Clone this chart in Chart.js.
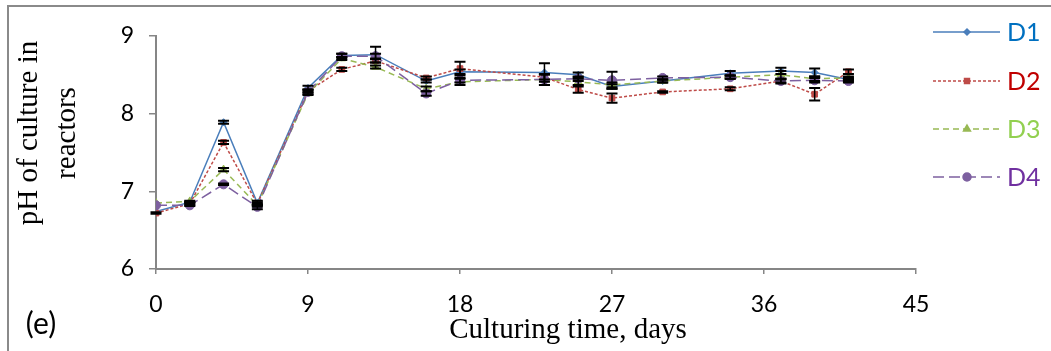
<!DOCTYPE html>
<html>
<head>
<meta charset="utf-8">
<script src="https://cdn.jsdelivr.net/npm/chart.js@4.4.1/dist/chart.umd.min.js"></script>
<style>
  html, body { margin: 0; padding: 0; background: #fff; }
  #wrap { position: relative; width: 1051px; height: 351px; }
</style>
</head>
<body>
<div id="wrap"><canvas id="phChart" width="1051" height="351"></canvas></div>
<script>
const dias = [0, 2, 4, 6, 9, 11, 13, 16, 18, 23, 25, 27, 30, 34, 37, 39, 41];
const xTicks = [0, 9, 18, 27, 36, 45];
const yTicks = [6, 7, 8, 9];

const nomesSeries = ["D1", "D2", "D3", "D4"];

const phD1 = [6.74, 6.86, 7.89, 6.85, 8.33, 8.75, 8.76, 8.42, 8.54, 8.53, 8.50, 8.35, 8.42, 8.52, 8.55, 8.53, 8.44];
const phD2 = [6.72, 6.84, 7.63, 6.84, 8.29, 8.57, 8.68, 8.46, 8.58, 8.47, 8.31, 8.20, 8.28, 8.32, 8.42, 8.25, 8.54];
const phD3 = [6.85, 6.87, 7.28, 6.82, 8.26, 8.71, 8.60, 8.32, 8.41, 8.44, 8.41, 8.37, 8.42, 8.47, 8.50, 8.45, 8.46];
const phD4 = [6.82, 6.82, 7.09, 6.80, 8.28, 8.74, 8.74, 8.26, 8.43, 8.44, 8.45, 8.43, 8.46, 8.47, 8.42, 8.43, 8.42];

// desvios (barras de erro)
const errD1 = [0.00, 0.01, 0.02, 0.03, 0.03, 0.02, 0.10, 0.02, 0.03, 0.12, 0.03, 0.03, 0.02, 0.03, 0.04, 0.05, 0.02];
const errD2 = [0.01, 0.02, 0.02, 0.02, 0.02, 0.02, 0.02, 0.02, 0.09, 0.03, 0.04, 0.06, 0.01, 0.02, 0.02, 0.08, 0.03];
const errD3 = [0.00, 0.01, 0.02, 0.02, 0.02, 0.02, 0.02, 0.03, 0.04, 0.07, 0.04, 0.03, 0.02, 0.02, 0.05, 0.03, 0.02];
const errD4 = [0.00, 0.01, 0.01, 0.03, 0.03, 0.03, 0.03, 0.03, 0.03, 0.07, 0.03, 0.11, 0.02, 0.02, 0.03, 0.03, 0.02];

const tituloY = ["pH of culture in", "reactors"];
const tituloX = "Culturing time, days";
const rotuloPainel = "(e)";

const coresLinha = ["#4a7ebb", "#be4b48", "#98b954", "#7d60a0"];
const coresLegenda = ["#0070c0", "#c00000", "#92d050", "#7030a0"];
const tracos = [[], [3, 2], [6, 4], [11, 5]];
const marcadores = ["rectRot", "rect", "triangle", "circle"];
const raios = [3.5, 4, 4.5, 4.5];

const serif = "'Liberation Serif', 'Times New Roman', serif";
const sans = "Lato, 'Open Sans', sans-serif";

const pontos = (vals) => vals.map((v, i) => ({ x: dias[i], y: v }));

const pluginExtras = {
  id: "extras",
  beforeDraw(chart) {
    const ctx = chart.ctx;
    ctx.save();
    ctx.fillStyle = "#fff";
    ctx.fillRect(0, 0, chart.width, chart.height);
    ctx.restore();
  },
  afterDatasetsDraw(chart) {
    const ctx = chart.ctx;
    const ys = chart.scales.y;
    const erros = [errD1, errD2, errD3, errD4];
    const valores = [phD1, phD2, phD3, phD4];
    ctx.save();
    ctx.strokeStyle = "#000";
    valores.forEach((serie, s) => {
      const meta = chart.getDatasetMeta(s);
      serie.forEach((v, i) => {
        if (!erros[s][i]) return;
        const x = meta.data[i].x;
        const yTop = ys.getPixelForValue(v + erros[s][i]);
        const yBot = ys.getPixelForValue(v - erros[s][i]);
        ctx.lineWidth = 1.5;
        ctx.beginPath();
        ctx.moveTo(x, yTop);
        ctx.lineTo(x, yBot);
        ctx.stroke();
        ctx.lineWidth = 2;
        ctx.beginPath();
        ctx.moveTo(x - 5.5, yTop);
        ctx.lineTo(x + 5.5, yTop);
        ctx.moveTo(x - 5.5, yBot);
        ctx.lineTo(x + 5.5, yBot);
        ctx.stroke();
      });
    });
    ctx.restore();
  },
  afterDraw(chart) {
    const ctx = chart.ctx;
    ctx.save();

    // moldura
    ctx.strokeStyle = "#8a8a8a";
    ctx.lineWidth = 2;
    ctx.beginPath();
    ctx.moveTo(8, 351);
    ctx.lineTo(8, 6);
    ctx.lineTo(1051, 6);
    ctx.stroke();

    // legenda
    const linhasY = [32, 81, 129, 177];
    nomesSeries.forEach((nome, s) => {
      const y = linhasY[s];
      ctx.strokeStyle = coresLinha[s];
      ctx.lineWidth = 1.5;
      ctx.setLineDash(tracos[s]);
      ctx.beginPath();
      ctx.moveTo(933, y);
      ctx.lineTo(1000, y);
      ctx.stroke();
      ctx.setLineDash([]);
      ctx.fillStyle = coresLinha[s];
      Chart.helpers.drawPoint(ctx, {
        pointStyle: marcadores[s],
        radius: raios[s] - 0.5,
        borderWidth: 1,
        rotation: 0,
      }, 967, y);
      ctx.fillStyle = coresLegenda[s];
      ctx.font = "25px " + sans;
      ctx.textAlign = "left";
      ctx.textBaseline = "middle";
      ctx.fillText(nome, 1007, y + 1);
    });

    // titulos
    ctx.fillStyle = "#000";
    ctx.font = "29px " + serif;
    ctx.textAlign = "center";
    ctx.textBaseline = "middle";
    ctx.fillText(tituloX, 568, 330);

    ctx.save();
    ctx.translate(29, 133);
    ctx.rotate(-Math.PI / 2);
    ctx.fillText(tituloY[0], 0, 0);
    ctx.fillText(tituloY[1], 0, 38);
    ctx.restore();

    ctx.font = "30px " + sans;
    ctx.fillText(rotuloPainel, 41, 324);
    ctx.restore();
  },
};

function montarDatasets() {
  const valores = [phD1, phD2, phD3, phD4];
  return valores.map((serie, s) => ({
    label: nomesSeries[s],
    data: pontos(serie),
    borderColor: coresLinha[s],
    backgroundColor: coresLinha[s],
    borderWidth: 1.5,
    borderDash: tracos[s],
    pointStyle: marcadores[s],
    pointRadius: raios[s],
    pointBorderWidth: 1,
    pointBorderColor: coresLinha[s],
    pointBackgroundColor: coresLinha[s],
    tension: 0,
    order: 4 - s,
  }));
}

document.addEventListener("DOMContentLoaded", () => {
  const ctx = document.getElementById("phChart").getContext("2d");

  new Chart(ctx, {
    type: "line",
    data: { datasets: montarDatasets() },
    plugins: [pluginExtras],
    options: {
      responsive: false,
      animation: false,
      devicePixelRatio: 1,
      layout: { padding: { top: 36, right: 135, bottom: 0, left: 0 } },
      plugins: { legend: { display: false }, tooltip: { enabled: false } },
      scales: {
        x: {
          type: "linear",
          min: 0,
          max: 45,
          afterBuildTicks: (scale) => {
            scale.ticks = xTicks.map((v) => ({ value: v }));
          },
          afterFit: (scale) => {
            scale.height = 82;
          },
          ticks: { color: "#000", font: { family: sans, size: 23 }, padding: 17 },
          grid: { drawOnChartArea: false, tickLength: 5, color: "#868686", lineWidth: 1.5 },
          border: { color: "#868686", width: 2 },
        },
        y: {
          min: 6,
          max: 9,
          afterBuildTicks: (scale) => {
            scale.ticks = yTicks.map((v) => ({ value: v }));
          },
          afterFit: (scale) => {
            scale.width = 156;
          },
          ticks: { color: "#000", font: { family: sans, size: 23 }, padding: 15 },
          grid: { drawOnChartArea: false, tickLength: 7, color: "#868686", lineWidth: 1.5 },
          border: { color: "#868686", width: 2 },
        },
      },
    },
  });
});
</script>
</body>
</html>
